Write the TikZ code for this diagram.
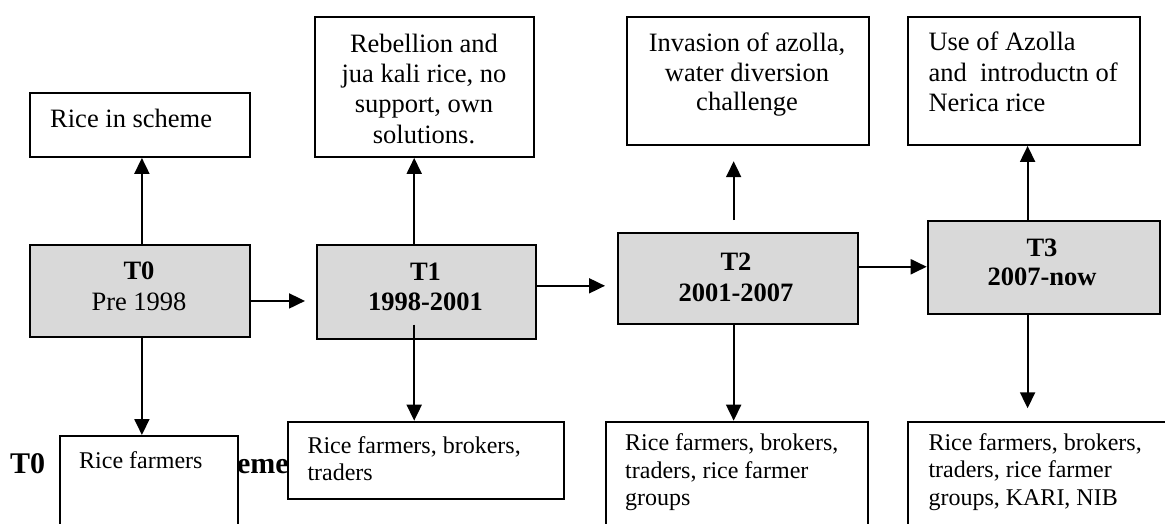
\documentclass[tikz,border=0pt]{standalone}
\usepackage{fontspec}
\setmainfont{Liberation Serif}
\usetikzlibrary{arrows.meta,calc}
\begin{document}
\begin{tikzpicture}[x=1pt,y=-1pt,
  frame/.style={draw, line width=1.9pt, inner sep=0pt, anchor=north west},
  plainbox/.style={frame, fill=white},
  periodbox/.style={frame, fill=gray!30},
  toptxt/.style={inner sep=0pt, font=\fontsize{26.5}{30.3}\selectfont},
  periodtxt/.style={inner sep=0pt, anchor=base},
  lowtxt/.style={inner sep=0pt, anchor=base west, font=\fontsize{24}{27.5}\selectfont},
  headtxt/.style={inner sep=0pt, anchor=base west, font=\fontsize{30}{36}\selectfont\bfseries},
  link/.style={line width=1.9pt, -{Triangle[length=16pt,width=15pt]}}
]
\useasboundingbox (0,0) rectangle (1165,523);
\clip (0,0) rectangle (1165,523);

% section heading running underneath the bottom boxes
\node[headtxt] (head) at (10,473)
  {T0\kern15pt Rice\hspace{4.5pt}in\hspace{4.5pt}the\hspace{4.5pt}scheme};

% periods
\node[periodbox, minimum width=220.3pt, minimum height=92pt]   (t0) at (28.7,244) {};
\node[periodbox, minimum width=219.3pt, minimum height=93.7pt] (t1) at (316,244) {};
\node[periodbox, minimum width=240.6pt, minimum height=91pt]   (t2) at (616.7,232.3) {};
\node[periodbox, minimum width=232.3pt, minimum height=93.3pt] (t3) at (926.7,220) {};

\node[periodtxt, font=\fontsize{26.5}{31.4}\selectfont] (t0t) at (139,279.3)
  {\begin{tabular}[t]{@{}c@{}}\textbf{T0}\\Pre 1998\end{tabular}};
\node[periodtxt, font=\fontsize{26.5}{30}\selectfont\bfseries] (t1t) at (425.5,280)
  {\begin{tabular}[t]{@{}c@{}}T1\\1998-2001\end{tabular}};
\node[periodtxt, font=\fontsize{26.5}{31.7}\selectfont\bfseries] (t2t) at (736,270)
  {\begin{tabular}[t]{@{}c@{}}T2\\2001-2007\end{tabular}};
\node[periodtxt, font=\fontsize{26.5}{28.5}\selectfont\bfseries] (t3t) at (1042,256.7)
  {\begin{tabular}[t]{@{}c@{}}T3\\2007-now\end{tabular}};

% events above
\node[plainbox, minimum width=220.3pt, minimum height=64pt]  (r0) at (28.7,92) {};
\node[plainbox, minimum width=219pt,   minimum height=140pt] (r1) at (314.3,16) {};
\node[plainbox, minimum width=241.7pt, minimum height=128pt] (r2) at (626,16) {};
\node[plainbox, minimum width=232.6pt, minimum height=128pt] (r3) at (906.7,16) {};

\node[toptxt, anchor=base west] (r0t) at (50,127) {Rice in scheme};
\node[toptxt, anchor=base] (r1t) at (424,52.3)
  {\begin{tabular}[t]{@{}c@{}}Rebellion and\\jua kali rice, no\\support, own\\solutions.\end{tabular}};
\node[toptxt, anchor=base, font=\fontsize{26.5}{29.5}\selectfont] (r2t) at (747,51.7)
  {\begin{tabular}[t]{@{}c@{}}Invasion of azolla,\\water diversion\\challenge\end{tabular}};
\node[toptxt, anchor=base west, font=\fontsize{26.5}{30.5}\selectfont] (r3t) at (928.3,50.7)
  {\begin{tabular}[t]{@{}l@{}}Use of Azolla\\and\ \ introductn of\\Nerica rice\end{tabular}};

% actors below
\node[plainbox, minimum width=178.6pt, minimum height=120pt]  (b0) at (58.7,435) {};
\node[plainbox, minimum width=276.6pt, minimum height=77.6pt] (b1) at (286.7,420.7) {};
\node[plainbox, minimum width=262.3pt, minimum height=130pt]  (b2) at (605,420.7) {};
\node[plainbox, minimum width=280pt,   minimum height=130pt]  (b3) at (906.7,420.7) {};

\node[lowtxt] (b0t) at (79,468) {Rice farmers};
\node[lowtxt, font=\fontsize{24}{26.7}\selectfont] (b1t) at (307.3,453.3)
  {\begin{tabular}[t]{@{}l@{}}Rice farmers, brokers,\\traders\end{tabular}};
\node[lowtxt] (b2t) at (625,450.7)
  {\begin{tabular}[t]{@{}l@{}}Rice farmers, brokers,\\traders, rice farmer\\groups\end{tabular}};
\node[lowtxt] (b3t) at (928.3,450)
  {\begin{tabular}[t]{@{}l@{}}Rice farmers, brokers,\\traders, rice farmer\\groups, KARI, NIB\end{tabular}};

% upward links
\draw[link] ([xshift=2.1pt]t0.north) -- ([xshift=2.1pt]t0.north |- r0.south);
\draw[link] ([xshift=-12.4pt]t1.north) -- ([xshift=-12.4pt]t1.north |- r1.south);
\draw[link] ([xshift=-4.3pt,yshift=12.3pt]t2.north) -- ($([xshift=-4.3pt]t2.north |- r2.south)+(0,15.3)$);
\draw[link] ([xshift=-16.2pt]t3.north) -- ([xshift=-16.2pt]t3.north |- r3.south);

% downward links
\draw[link] ([xshift=2.1pt]t0.south) -- ([xshift=2.1pt]t0.south |- b0.north);
\draw[link] ([xshift=-12.4pt,yshift=15pt]t1.south) -- ([xshift=-12.4pt]t1.south |- b1.north);
\draw[link] ([xshift=-4.3pt]t2.south) -- ([xshift=-4.3pt]t2.south |- b2.north);
\draw[link] ([xshift=-16.2pt]t3.south) -- ($([xshift=-16.2pt]t3.south |- b3.north)+(0,-12.4)$);

% timeline links
\draw[link] ($(t0.east)+(0,10)$) -- ($(t0.east -| t1.west)+(-11,10)$);
\draw[link] ($(t1.east)+(0,-6)$) -- ($(t1.east -| t2.west)+(-11.7,-6)$);
\draw[link] ($(t2.east)+(0,-12)$) -- ($(t2.east -| t3.west)+(0,-12)$);
\end{tikzpicture}
\end{document}
